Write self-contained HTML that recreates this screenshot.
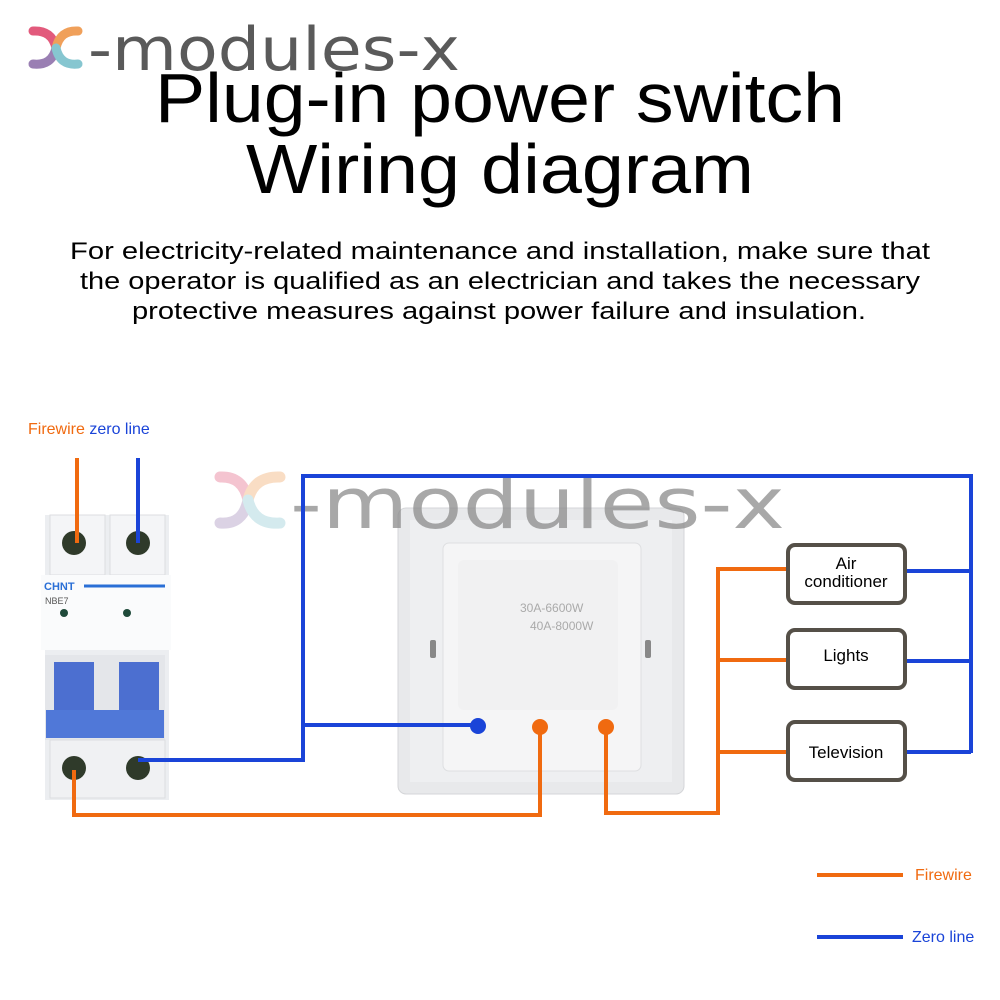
<!DOCTYPE html>
<html><head><meta charset="utf-8"><style>html,body{margin:0;padding:0;background:#fff}svg{display:block}</style></head>
<body>
<svg width="1000" height="1000" viewBox="0 0 1000 1000" xmlns="http://www.w3.org/2000/svg" font-family="Liberation Sans, DejaVu Sans, sans-serif">
<rect width="1000" height="1000" fill="#fff"/>
<!-- logo -->
<g stroke-width="9" stroke-linecap="round" fill="none">
<path d="M33 31 Q52 30 56 48" stroke="#e25a7c"/>
<path d="M33 64 Q52 66 56 48" stroke="#9a7fb3"/>
<path d="M78 31 Q60 30 56 48" stroke="#f0a05a"/>
<path d="M78 64 Q60 66 56 48" stroke="#86c6d0"/>
</g>
<text x="88" y="70" font-size="60" fill="#5a5a5a" font-family="DejaVu Sans, sans-serif" textLength="372" lengthAdjust="spacingAndGlyphs">-modules-x</text>
<!-- title -->
<text x="500" y="122" font-size="70" text-anchor="middle" fill="#000" textLength="690" lengthAdjust="spacingAndGlyphs">Plug-in power switch</text>
<text x="500" y="193" font-size="70" text-anchor="middle" fill="#000" textLength="508" lengthAdjust="spacingAndGlyphs">Wiring diagram</text>
<g font-size="24" fill="#000" text-anchor="middle">
<text x="500" y="259" textLength="860" lengthAdjust="spacingAndGlyphs">For electricity-related maintenance and installation, make sure that</text>
<text x="500" y="289" textLength="840" lengthAdjust="spacingAndGlyphs">the operator is qualified as an electrician and takes the necessary</text>
<text x="499" y="319" textLength="734" lengthAdjust="spacingAndGlyphs">protective measures against power failure and insulation.</text>
</g>
<text x="28" y="434" font-size="16"><tspan fill="#f06a10">Firewire</tspan><tspan fill="#1a44d8"> zero line</tspan></text>

<!-- breaker -->
<rect x="45" y="515" width="124" height="285" fill="#eceef1"/>
<rect x="50" y="515" width="55" height="60" fill="#f4f5f7" stroke="#dcdde0"/>
<rect x="110" y="515" width="55" height="60" fill="#f4f5f7" stroke="#dcdde0"/>
<rect x="41" y="575" width="130" height="75" fill="#fafbfc"/>
<text x="44" y="590" font-size="11" font-weight="bold" fill="#2a6fd6">CHNT</text>
<line x1="84" y1="586" x2="165" y2="586" stroke="#2a6fd6" stroke-width="3"/>
<text x="45" y="604" font-size="9" fill="#555">NBE7</text>
<circle cx="64" cy="613" r="4" fill="#1f4a3a"/><circle cx="127" cy="613" r="4" fill="#1f4a3a"/>
<rect x="45" y="655" width="120" height="85" fill="#e4e6ea"/>
<rect x="54" y="662" width="40" height="60" fill="#4c6fd0"/>
<rect x="119" y="662" width="40" height="60" fill="#4c6fd0"/>
<rect x="46" y="710" width="118" height="28" fill="#5078d8"/>
<rect x="50" y="740" width="115" height="58" fill="#f0f1f3" stroke="#dcdde0"/>
<circle cx="74" cy="543" r="12" fill="#2f3a2a"/><circle cx="138" cy="543" r="12" fill="#2f3a2a"/>
<circle cx="74" cy="768" r="12" fill="#2f3a2a"/><circle cx="138" cy="768" r="12" fill="#2f3a2a"/>

<!-- switch plate -->
<rect x="398" y="508" width="286" height="286" rx="8" fill="#e8e9eb" stroke="#d4d5d8"/>
<rect x="410" y="520" width="262" height="262" fill="#eeeff1"/>
<rect x="443" y="543" width="198" height="228" rx="6" fill="#f5f5f6" stroke="#dedfe1"/>
<rect x="458" y="560" width="160" height="150" rx="6" fill="#f1f1f2"/>
<g fill="#888"><rect x="430" y="640" width="6" height="18" rx="2"/><rect x="645" y="640" width="6" height="18" rx="2"/></g>
<g fill="#aaa" font-size="12"><text x="520" y="612">30A-6600W</text><text x="530" y="630">40A-8000W</text></g>

<!-- watermark -->
<g opacity="0.35" stroke-width="11" stroke-linecap="round" fill="none">
<path d="M220 477 Q243 476 248 500" stroke="#e25a7c"/>
<path d="M220 523 Q243 525 248 500" stroke="#9a7fb3"/>
<path d="M280 477 Q254 476 248 500" stroke="#f0a05a"/>
<path d="M280 523 Q254 525 248 500" stroke="#86c6d0"/>
</g>
<text x="290" y="528" font-size="70" fill="#8c8c8c" opacity="0.75" font-family="DejaVu Sans, sans-serif" textLength="495" lengthAdjust="spacingAndGlyphs">-modules-x</text>

<!-- wires -->
<g fill="none" stroke-width="4" stroke-linejoin="miter">
<path d="M77 458 V543" stroke="#f06a10"/>
<path d="M138 458 V543" stroke="#1a44d8"/>
<path d="M138 760 H303 V476 H971 V753 M303 725 H478 M905 571 H971 M905 661 H971 M905 752 H971" stroke="#1a44d8"/>
<path d="M74 770 V815 H540 V727" stroke="#f06a10"/>
<path d="M606 727 V813 H718 V569 H788 M718 660 H788 M718 752 H788" stroke="#f06a10"/>
<path d="M817 875 H903" stroke="#f06a10"/>
<path d="M817 937 H903" stroke="#1a44d8"/>
</g>
<circle cx="478" cy="726" r="8" fill="#1a44d8"/>
<circle cx="540" cy="727" r="8" fill="#f06a10"/>
<circle cx="606" cy="727" r="8" fill="#f06a10"/>

<!-- boxes -->
<g fill="#fff" stroke="#555048" stroke-width="4">
<rect x="788" y="545" width="117" height="58" rx="7"/>
<rect x="788" y="630" width="117" height="58" rx="7"/>
<rect x="788" y="722" width="117" height="58" rx="7"/>
</g>
<g font-size="17" fill="#000" text-anchor="middle">
<text x="846" y="569">Air</text>
<text x="846" y="587">conditioner</text>
<text x="846" y="661">Lights</text>
<text x="846" y="758">Television</text>
</g>
<text x="915" y="880" font-size="16" fill="#f06a10">Firewire</text>
<text x="912" y="942" font-size="16" fill="#1a44d8">Zero line</text>
</svg>
</body></html>
